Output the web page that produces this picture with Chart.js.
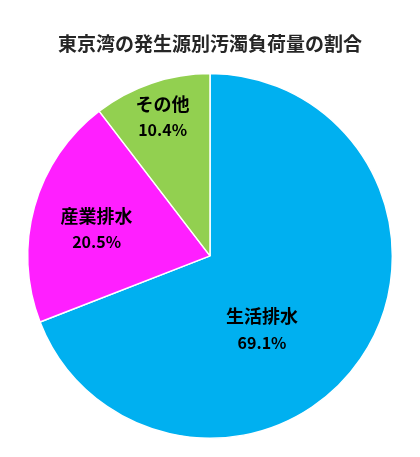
<!DOCTYPE html>
<html>
<head>
<meta charset="utf-8">
<script src="https://cdn.jsdelivr.net/npm/chart.js@4"></script>
<style>
html,body{margin:0;padding:0;background:#fff;}
#wrap{width:420px;height:457px;position:relative;}
</style>
</head>
<body>
<div id="wrap"><canvas id="c"></canvas></div>
<script>
const categories = ['生活排水', '産業排水', 'その他'];
const shares = [69.1, 20.5, 10.4];
const sliceColors = ['#00b0f0', '#ff1fff', '#92d050'];
const chartTitle = '東京湾の発生源別汚濁負荷量の割合';

// label placement: fraction of radius and angular nudge (degrees) per slice
const labelPlace = [
  {r: 0.49, da: 20},
  {r: 0.64, da: -2},
  {r: 0.81, da: 0}
];

const labelPlugin = {
  id: 'sliceLabels',
  afterDatasetsDraw(chart) {
    const ctx = chart.ctx;
    const meta = chart.getDatasetMeta(0);
    ctx.save();
    ctx.fillStyle = '#000';
    ctx.textAlign = 'center';
    ctx.textBaseline = 'middle';
    meta.data.forEach((arc, i) => {
      const p = arc.getProps(['x','y','startAngle','endAngle','outerRadius'], true);
      const mid = (p.startAngle + p.endAngle) / 2 + labelPlace[i].da * Math.PI / 180;
      const rr = p.outerRadius * labelPlace[i].r;
      const cx = p.x + Math.cos(mid) * rr;
      const cy = p.y + Math.sin(mid) * rr;
      ctx.font = 'bold 18px "Noto Sans CJK JP", sans-serif';
      ctx.fillText(categories[i], cx, cy - 12);
      ctx.font = 'bold 16px "Noto Sans CJK JP", sans-serif';
      ctx.fillText(shares[i].toFixed(1) + '%', cx, cy + 14);
    });
    ctx.restore();
  }
};

new Chart(document.getElementById('c'), {
  type: 'pie',
  data: {
    labels: categories,
    datasets: [{
      data: shares,
      backgroundColor: sliceColors,
      borderColor: '#ffffff',
      borderWidth: 1.5
    }]
  },
  options: {
    responsive: true,
    maintainAspectRatio: false,
    animation: false,
    layout: { padding: { top: 0, bottom: 18, left: 0, right: 0 } },
    plugins: {
      legend: { display: false },
      tooltip: { enabled: false },
      title: {
        display: true,
        text: chartTitle,
        color: '#262626',
        font: { family: '"Noto Sans CJK JP", sans-serif', size: 19, weight: 'bold' },
        padding: { top: 32, bottom: 18 }
      }
    }
  },
  plugins: [labelPlugin]
});
</script>
</body>
</html>
